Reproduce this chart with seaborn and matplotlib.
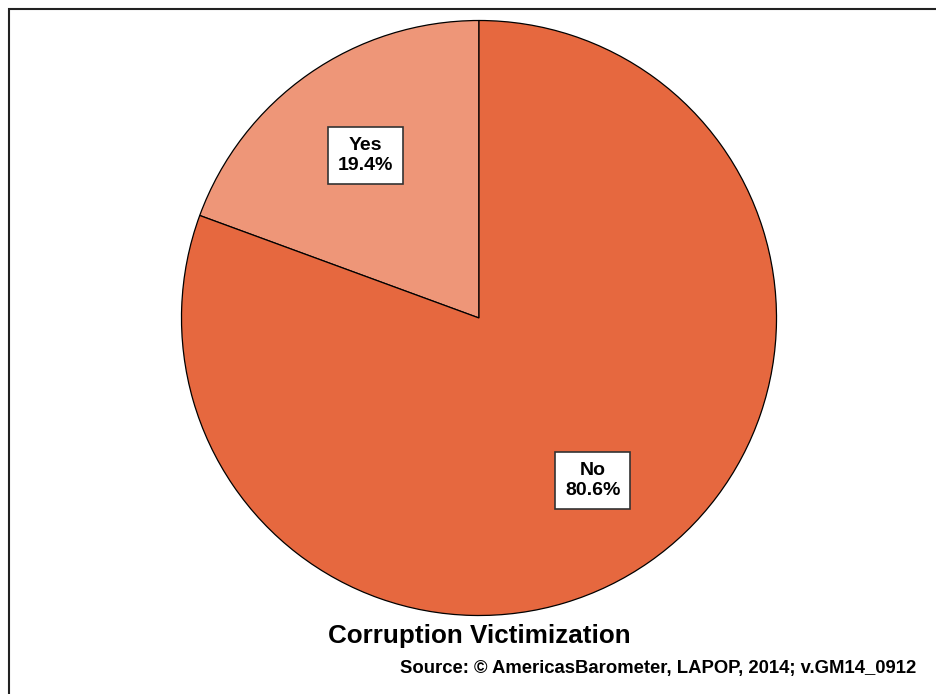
import matplotlib
matplotlib.use("Agg")
import matplotlib.pyplot as plt
from matplotlib.patches import Rectangle
import seaborn as sns

# Data
categories = ["Yes", "No"]
shares = [19.4, 80.6]
colors = ["#EE9678", "#E6683F"]

sns.set_theme(style="white")
plt.rcParams['font.family'] = ['Liberation Sans', 'DejaVu Sans']
plt.rcParams['text.color'] = 'black'

fig = plt.figure(figsize=(9.36, 6.94), dpi=100)
W, H = 936, 694

# pie centred at (479, 318) px from top-left, radius ~297 px
cx, cy, r = 479, 318, 297.5
ax = fig.add_axes([(cx - r) / W, (H - cy - r) / H, 2 * r / W, 2 * r / H])

labels = [f"{c}\n{v:.1f}%" for c, v in zip(categories, shares)]
wedges, texts = ax.pie(shares, labels=labels, colors=colors, startangle=90,
                       counterclock=True, labeldistance=0.667, radius=1,
                       wedgeprops=dict(edgecolor="black", linewidth=0.9),
                       textprops=dict(fontsize=14, fontweight="bold", ha="center",
                                      va="center", linespacing=1.25, color="black"))
for t in texts:
    t.set_bbox(dict(facecolor="white", edgecolor="#333333", linewidth=1.2,
                    boxstyle="square,pad=0.5"))
ax.set_xlim(-1, 1)
ax.set_ylim(-1, 1)
ax.set_aspect("equal")
ax.axis("off")

fig.text(cx / W, 1 - 636 / H, "Corruption Victimization", ha="center", va="center",
         fontsize=18.7, fontweight="bold", color="black")
fig.text(916 / W, 1 - 668 / H, "Source: \u00a9 AmericasBarometer, LAPOP, 2014; v.GM14_0912",
         ha="right", va="center", fontsize=13.3, fontweight="bold", color="black")

# outer frame (top and left visible)
fig.add_artist(Rectangle((8.5 / W, -0.1), 1.2, 1 - 8.5 / H + 0.1, transform=fig.transFigure,
                         fill=False, edgecolor="#222222", linewidth=1.5, clip_on=False))

fig.savefig("out.png", dpi=100)
